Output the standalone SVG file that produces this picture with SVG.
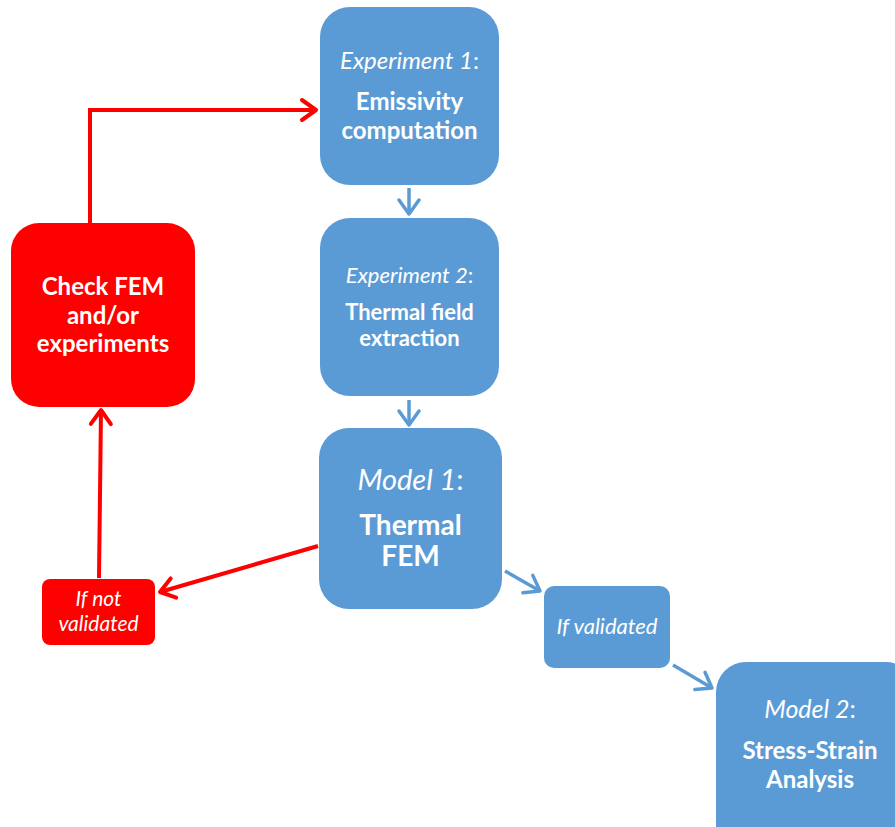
<svg xmlns="http://www.w3.org/2000/svg" width="895" height="827" viewBox="0 0 895 827">
<style>
.blue{fill:#5B9BD5}
.red{fill:#FF0000}
text{fill:#fff;font-family:Lato,"Open Sans","Liberation Sans",sans-serif;text-anchor:middle}
.i{font-style:italic}
.b{font-weight:bold}
.rl{stroke:#FF0000;stroke-width:4;fill:none}
.bl{stroke:#5B9BD5;stroke-width:3.5;fill:none}
</style>
<defs>
<marker id="ra" markerUnits="userSpaceOnUse" markerWidth="30" markerHeight="30" viewBox="-20 -15 24 30" refX="0" refY="0" orient="auto">
<path d="M-14,-10 L0,0 L-14,10" fill="none" stroke="#FF0000" stroke-width="4" stroke-linecap="round" stroke-linejoin="round"/>
</marker>
<marker id="ba" markerUnits="userSpaceOnUse" markerWidth="30" markerHeight="30" viewBox="-20 -15 24 30" refX="0" refY="0" orient="auto">
<path d="M-14,-10 L0,0 L-14,10" fill="none" stroke="#5B9BD5" stroke-width="3.5" stroke-linecap="round" stroke-linejoin="round"/>
</marker>
</defs>
<g id="connectors">
<path class="rl" d="M90,223 L90,110 L316,110" marker-end="url(#ra)"/>
<path class="rl" d="M318,546 L160,592" marker-end="url(#ra)"/>
<path class="rl" d="M99,578 L101,410" marker-end="url(#ra)"/>
<path class="bl" d="M409,188 L409,214" marker-end="url(#ba)"/>
<path class="bl" d="M409,400 L409,425" marker-end="url(#ba)"/>
<path class="bl" d="M505,571 L540,591" marker-end="url(#ba)"/>
<path class="bl" d="M673,665 L712,688" marker-end="url(#ba)"/>
</g>
<g id="exp1">
<rect class="blue" x="320" y="7" width="179" height="178" rx="30"/>
<text x="409.5" y="69" font-size="24"><tspan class="i">Experiment 1</tspan>:</text>
<text class="b" x="409.5" y="110" font-size="24">Emissivity</text>
<text class="b" x="409.5" y="139" font-size="24">computation</text>
</g>
<g id="exp2">
<rect class="blue" x="320" y="218" width="179" height="178" rx="30"/>
<text x="409.5" y="283" font-size="22"><tspan class="i">Experiment 2</tspan>:</text>
<text class="b" x="409.5" y="320" font-size="22">Thermal field</text>
<text class="b" x="409.5" y="346" font-size="22">extraction</text>
</g>
<g id="model1">
<rect class="blue" x="319" y="428" width="183" height="181" rx="30"/>
<text x="410.5" y="490" font-size="29"><tspan class="i">Model 1</tspan>:</text>
<text class="b" x="410.5" y="535" font-size="28">Thermal</text>
<text class="b" x="410.5" y="566" font-size="28">FEM</text>
</g>
<g id="check">
<rect class="red" x="11" y="223" width="184" height="184" rx="28"/>
<text class="b" x="103" y="295" font-size="24">Check FEM</text>
<text class="b" x="103" y="324" font-size="24">and/or</text>
<text class="b" x="103" y="352" font-size="24">experiments</text>
</g>
<g id="notvalid">
<rect class="red" x="42" y="579" width="113" height="66" rx="8"/>
<text class="i" x="98.5" y="606" font-size="21">If not</text>
<text class="i" x="98.5" y="631" font-size="21">validated</text>
</g>
<g id="valid">
<rect class="blue" x="544" y="586" width="126" height="82" rx="10"/>
<text class="i" x="607" y="634" font-size="22">If validated</text>
</g>
<g id="model2">
<rect class="blue" x="716" y="662" width="200" height="200" rx="30"/>
<text x="810" y="718" font-size="25"><tspan class="i">Model 2</tspan>:</text>
<text class="b" x="810" y="759" font-size="24">Stress-Strain</text>
<text class="b" x="810" y="788" font-size="24">Analysis</text>
</g>
</svg>
